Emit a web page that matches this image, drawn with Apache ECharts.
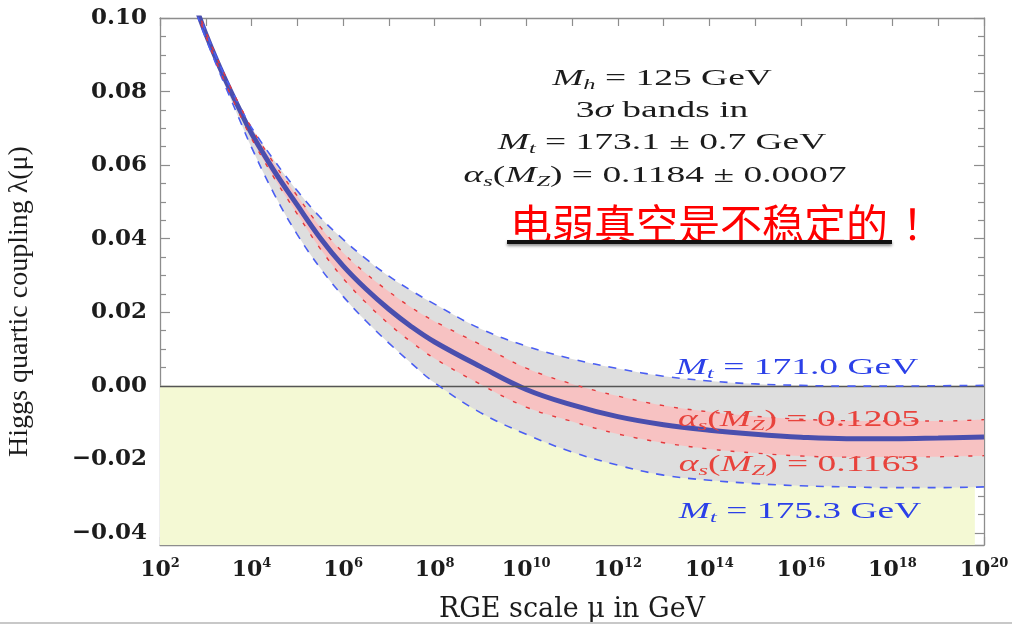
<!DOCTYPE html>
<html><head><meta charset="utf-8">
<script src="https://cdn.jsdelivr.net/npm/echarts@6/dist/echarts.min.js"></script>
<style>html,body{margin:0;padding:0;background:#fff}#c{width:1012px;height:625px}</style>
</head><body><div id="c"></div>
<script>
// x values: log10(mu / GeV)
const logMu   = [2.8, 3.0, 3.25, 3.5, 3.75, 4.0, 4.5, 5.0, 5.5, 6.0, 6.5, 7.0, 7.5, 8.0, 9.0, 10.0, 11.0, 12.0, 13.0, 14.0, 15.0, 16.0, 17.0, 18.0, 19.0, 20.0];
// central value: Mt = 173.1 GeV, alpha_s(MZ) = 0.1184
const central = [0.1024, 0.0957, 0.0882, 0.0813, 0.0748, 0.0686, 0.0583, 0.0491, 0.0402, 0.0326, 0.0263, 0.0208, 0.0160, 0.0119, 0.0052, -0.0010, -0.0052, -0.0084, -0.0106, -0.0121, -0.0132, -0.0140, -0.0144, -0.0144, -0.0142, -0.0139];
// Mt = 171.0 GeV (upper edge of grey band)
const mt171   = [0.1030, 0.0963, 0.0888, 0.0820, 0.0758, 0.0702, 0.0612, 0.0530, 0.0458, 0.0398, 0.0345, 0.0298, 0.0258, 0.0222, 0.0155, 0.0108, 0.0073, 0.0047, 0.0026, 0.0013, 0.0005, 0.0001, -0.0001, -0.0001, 0.0000, 0.0001];
// Mt = 175.3 GeV (lower edge of grey band)
const mt1753  = [0.1012, 0.0945, 0.0867, 0.0793, 0.0720, 0.0648, 0.0520, 0.0411, 0.0320, 0.0243, 0.0176, 0.0116, 0.0060, 0.0008, -0.0073, -0.0132, -0.0180, -0.0216, -0.0243, -0.0257, -0.0266, -0.0272, -0.0275, -0.0277, -0.0277, -0.0275];
// alpha_s(MZ) = 0.1205 (upper edge of red band)
const as1205  = [0.1028, 0.0963, 0.0890, 0.0823, 0.0760, 0.0701, 0.0603, 0.0516, 0.0432, 0.0362, 0.0305, 0.0256, 0.0212, 0.0175, 0.0112, 0.0048, 0.0005, -0.0028, -0.0054, -0.0071, -0.0083, -0.0091, -0.0095, -0.0096, -0.0096, -0.0092];
// alpha_s(MZ) = 0.1163 (lower edge of red band)
const as1163  = [0.1020, 0.0951, 0.0874, 0.0803, 0.0736, 0.0672, 0.0564, 0.0467, 0.0373, 0.0292, 0.0226, 0.0168, 0.0118, 0.0074, 0.0004, -0.0058, -0.0097, -0.0131, -0.0155, -0.0172, -0.0183, -0.0191, -0.0194, -0.0194, -0.0193, -0.0190];
// axis ticks / labels
const yTicks = [-0.04, -0.02, 0.00, 0.02, 0.04, 0.06, 0.08, 0.10];
const xLabelExps = [2, 4, 6, 8, 10, 12, 14, 16, 18, 20];
const yMin = -0.0433, yMax = 0.10, xMin = 2, xMax = 20;
const unstableEnd = 19.8;
const SMOOTH = 0.4;

const yMinor = [];
for (let k = -8; k <= 20; k++) { const v = +(k * 0.005).toFixed(3); if (Math.abs(Math.round(v / 0.02) * 0.02 - v) > 1e-9) yMinor.push(v); }

const pts = a => logMu.map((x, i) => [x, a[i]]);

const FRAME = '#8d8d8d';
const TXT = '#1c1c1c';
const SER = '"Liberation Serif", "Times New Roman", serif';
const axisFont = '"DejaVu Serif", serif';

// same bezier smoothing as echarts line series (non-monotone)
function smoothCmds(p, smooth, first) {
  let s = first + p[0][0] + ' ' + p[0][1];
  let cpx0 = p[0][0], cpy0 = p[0][1];
  const mn = Math.min, mx = Math.max;
  for (let i = 1; i < p.length; i++) {
    const x = p[i][0], y = p[i][1], prevX = p[i - 1][0], prevY = p[i - 1][1];
    let cpx1, cpy1, ncx = x, ncy = y;
    if (i === p.length - 1) { cpx1 = x; cpy1 = y; }
    else {
      const nextX = p[i + 1][0], nextY = p[i + 1][1];
      let vx = nextX - prevX, vy = nextY - prevY;
      const dx0 = x - prevX, dy0 = y - prevY, dx1 = nextX - x, dy1 = nextY - y;
      const lp = Math.sqrt(dx0 * dx0 + dy0 * dy0), ln = Math.sqrt(dx1 * dx1 + dy1 * dy1);
      const r = ln / (ln + lp);
      ncx = x + vx * smooth * r; ncy = y + vy * smooth * r;
      ncx = mn(ncx, mx(nextX, x)); ncy = mn(ncy, mx(nextY, y));
      ncx = mx(ncx, mn(nextX, x)); ncy = mx(ncy, mn(nextY, y));
      vx = ncx - x; vy = ncy - y;
      cpx1 = x - vx * lp / ln; cpy1 = y - vy * lp / ln;
      cpx1 = mn(cpx1, mx(prevX, x)); cpy1 = mn(cpy1, mx(prevY, y));
      cpx1 = mx(cpx1, mn(prevX, x)); cpy1 = mx(cpy1, mn(prevY, y));
      vx = x - cpx1; vy = y - cpy1;
      ncx = x + vx * ln / lp; ncy = y + vy * ln / lp;
    }
    s += ' C' + cpx0 + ' ' + cpy0 + ' ' + cpx1 + ' ' + cpy1 + ' ' + x + ' ' + y;
    cpx0 = ncx; cpy0 = ncy;
  }
  return s;
}

function bandSeries(name, upper, lower, color, z) {
  return {
    name: name, type: 'custom', z: z, silent: true, clip: true,
    data: logMu.map((x, i) => [x, lower[i], upper[i]]),
    encode: { x: 0, y: [1, 2] },
    renderItem: function (params, api) {
      if (params.dataIndex !== 0) return null;
      const up = logMu.map((x, i) => api.coord([x, upper[i]]));
      const lo = logMu.map((x, i) => api.coord([x, lower[i]])).reverse();
      const d = smoothCmds(up, SMOOTH, 'M') + ' ' + smoothCmds(lo, SMOOTH, 'L') + ' Z';
      const cs = params.coordSys;
      return {
        type: 'group',
        clipPath: { type: 'rect', shape: { x: cs.x, y: cs.y, width: cs.width, height: cs.height } },
        children: [{ type: 'path', shape: { pathData: d }, style: { fill: color, stroke: null } }]
      };
    }
  };
}

function curve(name, arr, color, width, dash, z) {
  return { name: name, type: 'line', data: pts(arr), smooth: SMOOTH, showSymbol: false, silent: true, z: z, clip: true,
    lineStyle: { color: color, width: width, type: dash } };
}

const chart = echarts.init(document.getElementById('c'), null, { renderer: 'canvas' });

function yAx(pos, major, labels) {
  return {
    type: 'value', position: pos, min: yMin, max: yMax, gridIndex: 0,
    axisLine: { show: major, lineStyle: { color: FRAME, width: 1.3 } },
    axisTick: { show: true, inside: true, length: major ? 10 : 6, customValues: major ? yTicks : yMinor, lineStyle: { color: FRAME, width: 1.2 } },
    axisLabel: {
      show: labels, customValues: yTicks, margin: 13, color: TXT, fontFamily: axisFont, fontSize: 23, fontWeight: 'bold',
      formatter: v => (v < 0 ? '\u2212' : '') + Math.abs(v).toFixed(2)
    },
    splitLine: { show: false },
    name: labels ? 'Higgs quartic coupling \u03bb(\u03bc)' : '',
    nameLocation: 'middle', nameRotate: 90, nameGap: 126,
    nameTextStyle: { fontFamily: SER, fontSize: 28, color: TXT, padding: [0, 40, 0, 0] }
  };
}

const option = {
  backgroundColor: '#ffffff',
  animation: false,
  grid: { left: 160, right: 28, top: 18, bottom: 80, containLabel: false, outerBoundsMode: 'none' },
  xAxis: [
    {
      type: 'value', position: 'bottom', min: xMin, max: xMax, interval: 1,
      axisLine: { show: true, onZero: false, lineStyle: { color: FRAME, width: 1.3 } },
      axisTick: { show: true, inside: true, length: 8, lineStyle: { color: FRAME, width: 1.2 } },
      axisLabel: {
        customValues: xLabelExps, margin: 12,
        formatter: v => '{b|10}{s|' + Math.round(v) + '}',
        rich: {
          b: { fontFamily: axisFont, fontSize: 22, fontWeight: 'bold', color: TXT, lineHeight: 26 },
          s: { fontFamily: axisFont, fontSize: 13, fontWeight: 'bold', color: TXT, verticalAlign: 'top' }
        }
      },
      splitLine: { show: false },
      name: 'RGE scale \u03bc in GeV', nameLocation: 'middle', nameGap: 51,
      nameTextStyle: { fontFamily: axisFont, fontSize: 27, color: TXT }
    },
    {
      type: 'value', position: 'top', min: xMin, max: xMax, interval: 1,
      axisLine: { show: true, onZero: false, lineStyle: { color: FRAME, width: 1.3 } },
      axisTick: { show: true, inside: true, length: 8, lineStyle: { color: FRAME, width: 1.2 } },
      axisLabel: { show: false }, splitLine: { show: false }
    }
  ],
  yAxis: [yAx('left', true, true), yAx('right', true, false), yAx('left', false, false), yAx('right', false, false)],
  series: [
    { // unstable region (lambda < 0)
      type: 'line', data: [], z: 0, silent: true, showSymbol: false,
      markArea: { silent: true, itemStyle: { color: '#f4f9d4' }, data: [[{ coord: [xMin, yMin] }, { coord: [unstableEnd, 0] }]] }
    },
    bandSeries('Mt band', mt171, mt1753, '#dedede', 1),
    bandSeries('alpha_s band', as1205, as1163, '#f7c2c2', 2),
    { // lambda = 0 line
      type: 'line', data: [], z: 3, silent: true,
      markLine: { silent: true, symbol: 'none', label: { show: false }, lineStyle: { color: '#555', width: 1.3, type: 'solid' }, data: [{ yAxis: 0 }] }
    },
    curve('Mt = 173.1 GeV', central, '#4a4fae', 5, 'solid', 4),
    curve('Mt = 171.0 GeV', mt171, '#4a5ef2', 1.6, [8, 8], 5),
    curve('Mt = 175.3 GeV', mt1753, '#4a5ef2', 1.6, [8, 8], 5),
    curve('alpha_s = 0.1205', as1205, '#e5393c', 1.4, [4, 10], 6),
    curve('alpha_s = 0.1163', as1163, '#e5393c', 1.4, [4, 10], 6)
  ]
};

function eqRich(color) {
  return {
    n: { fontFamily: SER, fontSize: 23, fill: color, lineHeight: 28 },
    i: { fontFamily: SER, fontSize: 23, fontStyle: 'italic', fill: color, lineHeight: 28 },
    d: { fontFamily: SER, fontSize: 15, fontStyle: 'italic', fill: color, verticalAlign: 'bottom' }
  };
}
function eq(x, y, text, color) {
  return {
    type: 'text', x: x, y: y, scaleX: 1.63, z: 100, silent: true,
    style: { x: 0, y: 0, text: text, rich: eqRich(color), align: 'center', verticalAlign: 'middle', textAlign: 'center', textVerticalAlign: 'middle' }
  };
}
const BLUE = '#2b40e8', RED = '#e8433c';
const CJK = '"Noto Sans CJK SC"';
option.graphic = [
  eq(662, 79, '{i|M}{d|h}{n| = 125 GeV}', TXT),
  eq(662, 111, '{n|3}{i|\u03c3}{n| bands in}', TXT),
  eq(662, 143, '{i|M}{d|t}{n| = 173.1 \u00b1 0.7 GeV}', TXT),
  eq(655, 176, '{i|\u03b1}{d|s}{n|(}{i|M}{d|Z}{n|) = 0.1184 \u00b1 0.0007}', TXT),
  eq(797, 368, '{i|M}{d|t}{n| = 171.0 GeV}', BLUE),
  eq(799, 420, '{i|\u03b1}{d|s}{n|(}{i|M}{d|Z}{n|) = 0.1205}', RED),
  eq(799, 465, '{i|\u03b1}{d|s}{n|(}{i|M}{d|Z}{n|) = 0.1163}', RED),
  eq(800, 512, '{i|M}{d|t}{n| = 175.3 GeV}', BLUE),
  {
    type: 'text', x: 510, y: 224, z: 100, silent: true,
    style: { x: 0, y: 0, text: '{a|电弱真空是不稳定的}{b|！}',
      rich: {
        a: { fontFamily: CJK, fontSize: 42, fill: '#ff0000' },
        b: { fontFamily: CJK, fontSize: 42, fill: '#ff0000', padding: [0, 0, 0, 14] }
      },
      align: 'left', verticalAlign: 'middle', textAlign: 'left', textVerticalAlign: 'middle' }
  },
  {
    type: 'rect', z: 100, silent: true, shape: { x: 507, y: 240, width: 385, height: 4 },
    style: { fill: '#111', shadowBlur: 3, shadowColor: 'rgba(0,0,0,0.45)', shadowOffsetY: 2 }
  },
  {
    type: 'line', z: 100, silent: true, shape: { x1: 0, y1: 623, x2: 1012, y2: 623 },
    style: { stroke: '#c8c8c8', lineWidth: 2 }
  }
];

chart.setOption(option);
</script></body></html>
